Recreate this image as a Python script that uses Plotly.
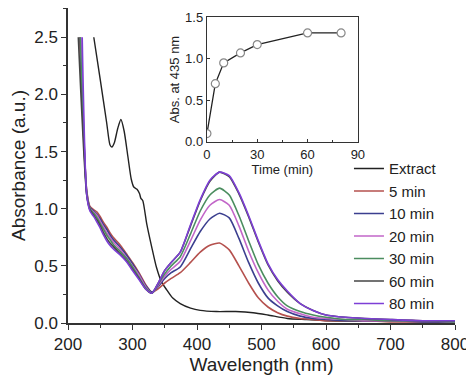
import plotly.graph_objects as go

# ---------------- data ----------------
extract_nm = [240, 250, 260, 265, 268, 272, 277, 282, 287, 293, 298, 302, 307, 311, 313, 316,
              322, 330, 337, 345, 353, 362, 374, 390, 405, 430, 460, 487, 510, 540, 570, 600, 700, 800]
extract_abs = [2.50, 2.13, 1.75, 1.56, 1.54, 1.58, 1.70, 1.78, 1.68, 1.45, 1.26, 1.19, 1.17, 1.13, 1.09, 1.07,
               0.87, 0.66, 0.49, 0.36, 0.29, 0.22, 0.17, 0.13, 0.11, 0.10, 0.10, 0.09, 0.07, 0.04, 0.03, 0.02, 0.015, 0.01]

# wavelength where each time-series spectrum enters at the top (2.5 a.u.)
onset_nm = [218, 219, 220, 219, 216, 222]
onset_abs = 2.5

wl = [229, 234, 240, 245, 250, 255, 260, 265, 270, 280, 290, 300, 310, 320, 330, 340, 350, 360, 374,
      390, 405, 420, 435, 450, 465, 480, 495, 510, 525, 540, 560, 580, 600, 630, 660, 700, 750, 800]

abs_5min = [1.16, 1.02, 0.99, 0.97, 0.93, 0.88, 0.84, 0.79, 0.75, 0.69, 0.61, 0.53, 0.44, 0.34, 0.27, 0.30, 0.35, 0.39, 0.44,
            0.53, 0.62, 0.68, 0.70, 0.64, 0.50, 0.35, 0.22, 0.14, 0.09, 0.06, 0.04, 0.03, 0.02, 0.02, 0.02, 0.01, 0.01, 0.01]
abs_10min = [1.15, 1.01, 0.98, 0.95, 0.91, 0.86, 0.82, 0.77, 0.73, 0.67, 0.60, 0.52, 0.43, 0.33, 0.27, 0.32, 0.39, 0.44, 0.49,
             0.65, 0.80, 0.91, 0.96, 0.92, 0.74, 0.53, 0.35, 0.22, 0.15, 0.10, 0.06, 0.04, 0.03, 0.02, 0.02, 0.02, 0.01, 0.01]
abs_20min = [1.14, 1.00, 0.97, 0.94, 0.89, 0.84, 0.79, 0.75, 0.71, 0.65, 0.58, 0.50, 0.42, 0.32, 0.26, 0.33, 0.41, 0.47, 0.54,
             0.72, 0.90, 1.03, 1.08, 1.03, 0.85, 0.63, 0.44, 0.29, 0.19, 0.12, 0.08, 0.05, 0.04, 0.03, 0.02, 0.02, 0.02, 0.01]
abs_30min = [1.13, 1.00, 0.96, 0.92, 0.87, 0.82, 0.77, 0.73, 0.69, 0.63, 0.57, 0.49, 0.40, 0.31, 0.26, 0.34, 0.43, 0.50, 0.58,
             0.78, 0.98, 1.12, 1.18, 1.12, 0.94, 0.72, 0.51, 0.35, 0.23, 0.15, 0.10, 0.07, 0.05, 0.03, 0.03, 0.02, 0.02, 0.01]
abs_60min = [1.12, 0.99, 0.94, 0.90, 0.85, 0.79, 0.74, 0.70, 0.67, 0.61, 0.55, 0.47, 0.39, 0.30, 0.26, 0.35, 0.46, 0.53, 0.62,
             0.85, 1.07, 1.24, 1.32, 1.28, 1.13, 0.93, 0.71, 0.51, 0.37, 0.27, 0.17, 0.11, 0.07, 0.05, 0.04, 0.03, 0.02, 0.02]
abs_80min = [1.12, 0.98, 0.93, 0.88, 0.83, 0.77, 0.72, 0.68, 0.65, 0.60, 0.54, 0.46, 0.38, 0.30, 0.26, 0.35, 0.46, 0.53, 0.62,
             0.86, 1.08, 1.25, 1.32, 1.29, 1.14, 0.94, 0.72, 0.52, 0.38, 0.28, 0.17, 0.11, 0.07, 0.05, 0.04, 0.03, 0.02, 0.02]

series_names = ["5 min", "10 min", "20 min", "30 min", "60 min", "80 min"]
series_values = [abs_5min, abs_10min, abs_20min, abs_30min, abs_60min, abs_80min]
series_colors = ["#b5514e", "#3b3f8f", "#c266c8", "#4b8d5f", "#444444", "#7d3fd6"]

inset_time = [0, 5, 10, 20, 30, 60, 80]
inset_abs = [0.10, 0.70, 0.95, 1.07, 1.17, 1.31, 1.31]

FONT = "Liberation Sans, Arial, sans-serif"

fig = go.Figure()

fig.add_trace(go.Scatter(x=extract_nm, y=extract_abs, mode="lines", name="Extract",
                         line=dict(color="#222222", width=1.4, shape="spline", smoothing=0.6)))

for name, vals, col, on in zip(series_names, series_values, series_colors, onset_nm):
    fig.add_trace(go.Scatter(x=[on] + wl, y=[onset_abs] + vals, mode="lines", name=name,
                             line=dict(color=col, width=1.6, shape="spline", smoothing=0.6)))

fig.add_trace(go.Scatter(x=inset_time, y=inset_abs, mode="lines+markers", showlegend=False,
                         xaxis="x2", yaxis="y2",
                         line=dict(color="#222222", width=1.3),
                         marker=dict(symbol="circle", size=8, color="white",
                                     line=dict(color="#888888", width=1.2))))

axis_common = dict(showline=True, linecolor="#333333", linewidth=1.5, ticks="outside",
                   tickcolor="#333333", tickwidth=1.3, showgrid=False, zeroline=False,
                   automargin=False,
                   tickfont=dict(family=FONT, size=17, color="#222222"))

# the page body adds an 8px offset, so the figure is sized 8px smaller
fig.update_layout(
    width=466, height=371,
    margin=dict(l=60, r=19, t=0, b=56),
    paper_bgcolor="white", plot_bgcolor="white",
    font=dict(family=FONT, color="#222222"),
    xaxis=dict(range=[200, 800], dtick=100, ticklen=5,
               minor=dict(dtick=50, ticks="outside", ticklen=3, tickcolor="#333333"),
               title=dict(text="Wavelength (nm)", font=dict(size=19), standoff=4),
               **axis_common),
    yaxis=dict(range=[0, 2.756], tickvals=[0, 0.5, 1.0, 1.5, 2.0, 2.5],
               ticktext=["0.0", "0.5", "1.0", "1.5", "2.0", "2.5"], ticklen=5,
               minor=dict(dtick=0.25, ticks="outside", ticklen=3, tickcolor="#333333"),
               title=dict(text="Absorbance (a.u.)", font=dict(size=19), standoff=6),
               **axis_common),
    xaxis2=dict(domain=[0.359, 0.749], anchor="y2", range=[0, 90], tickvals=[0, 30, 60, 90],
                showline=True, mirror=True, linecolor="#333333", linewidth=1.3,
                ticks="inside", ticklen=3, tickcolor="#333333",
                minor=dict(dtick=15, ticks="inside", ticklen=2, tickcolor="#333333"),
                showgrid=False, zeroline=False, automargin=False,
                tickfont=dict(family=FONT, size=13, color="#222222"),
                title=dict(text="Time (min)", font=dict(size=13), standoff=0)),
    yaxis2=dict(domain=[0.575, 0.971], anchor="x2", range=[0, 1.5],
                tickvals=[0, 0.5, 1.0, 1.5], ticktext=["0.0", "0.5", "1.0", "1.5"],
                showline=True, mirror=True, linecolor="#333333", linewidth=1.3,
                ticks="inside", ticklen=3, tickcolor="#333333",
                showgrid=False, zeroline=False, automargin=False,
                tickfont=dict(family=FONT, size=13, color="#222222"),
                title=dict(text="Abs. at 435 nm", font=dict(size=13), standoff=2)),
    legend=dict(x=0.726, y=0.542, xanchor="left", yanchor="top",
                bgcolor="rgba(0,0,0,0)", borderwidth=0,
                font=dict(family=FONT, size=15, color="#222222"),
                tracegroupgap=0),
    showlegend=True,
)

fig.write_html("out.html")
